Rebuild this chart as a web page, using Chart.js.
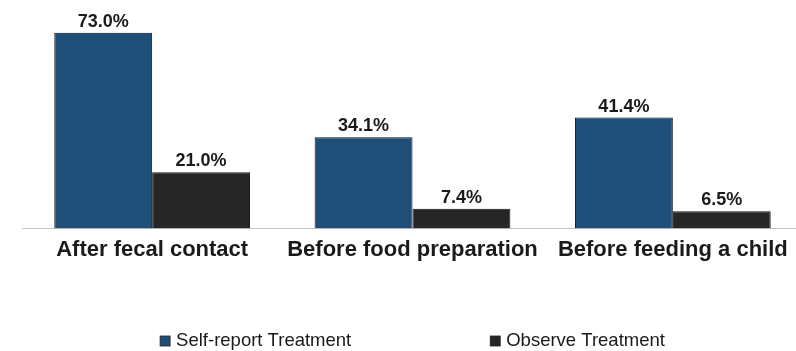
<!DOCTYPE html>
<html>
<head>
<meta charset="utf-8">
<script src="https://cdn.jsdelivr.net/npm/chart.js@4"></script>
<style>
  html, body { margin: 0; padding: 0; background: #fff; overflow: hidden; }
  #wrap { width: 803px; height: 351px; position: relative; }
</style>
</head>
<body>
<div id="wrap"><canvas id="handChart"></canvas></div>
<script>
var categories = ['After fecal contact', 'Before food preparation', 'Before feeding a child'];
var selfReport = [73.0, 34.1, 41.4];
var observed = [21.0, 7.4, 6.5];
var seriesNames = ['Self-report Treatment', 'Observe Treatment'];

// value labels above each bar
var barLabels = {
    id: 'barLabels',
    afterDatasetsDraw: function(chart) {
        var ctx = chart.ctx;
        ctx.save();
        ctx.font = 'bold 18px "Liberation Sans", Arial, sans-serif';
        ctx.fillStyle = '#1a1a1a';
        ctx.textAlign = 'center';
        ctx.textBaseline = 'alphabetic';
        chart.data.datasets.forEach(function(ds, i) {
            chart.getDatasetMeta(i).data.forEach(function(bar, j) {
                ctx.fillText(ds.data[j].toFixed(1) + '%', bar.x, bar.y - 6);
            });
        });
        ctx.restore();
    }
};

// legend at the bottom, centred on the plot
var bottomLegend = {
    id: 'bottomLegend',
    afterDraw: function(chart) {
        var ctx = chart.ctx;
        var area = chart.chartArea;
        ctx.save();
        ctx.font = '18.5px "Liberation Sans", Arial, sans-serif';
        ctx.textBaseline = 'middle';
        ctx.textAlign = 'left';
        var box = 10, gap = 6, spacing = 139;
        var widths = chart.data.datasets.map(function(ds) { return ctx.measureText(ds.label).width; });
        var total = box + gap + widths[0] + spacing + box + gap + widths[1];
        var x = (area.left + area.right) / 2 - total / 2;
        var y = 341;
        chart.data.datasets.forEach(function(ds, i) {
            ctx.fillStyle = ds.backgroundColor;
            ctx.fillRect(x, y - box / 2, box, box);
            ctx.strokeStyle = '#222';
            ctx.lineWidth = 0.8;
            ctx.strokeRect(x, y - box / 2, box, box);
            ctx.fillStyle = '#1a1a1a';
            ctx.fillText(ds.label, x + box + gap, y);
            x += box + gap + widths[i] + spacing;
        });
        ctx.restore();
    }
};

var handChart = new Chart(document.getElementById('handChart'), {
    type: 'bar',
    data: {
        labels: categories,
        datasets: [{
            label: seriesNames[0],
            data: selfReport,
            backgroundColor: '#1f4e79',
            borderColor: '#111111',
            borderWidth: 1
        }, {
            label: seriesNames[1],
            data: observed,
            backgroundColor: '#262626',
            borderColor: '#111111',
            borderWidth: 1
        }]
    },
    options: {
        responsive: true,
        maintainAspectRatio: false,
        animation: false,
        datasets: {
            bar: {
                categoryPercentage: 0.752,
                barPercentage: 1.0
            }
        },
        layout: {
            padding: { top: 14, left: 22, right: 0, bottom: 80 }
        },
        scales: {
            x: {
                grid: { display: false, drawTicks: false },
                border: { display: true, color: '#c4c4c4', width: 1 },
                ticks: {
                    color: '#1a1a1a',
                    padding: 8,
                    maxRotation: 0,
                    font: { family: '"Liberation Sans", Arial, sans-serif', size: 22, weight: 'bold' }
                }
            },
            y: {
                display: false,
                min: 0,
                max: 80
            }
        },
        plugins: {
            legend: { display: false },
            tooltip: { enabled: false }
        }
    },
    plugins: [barLabels, bottomLegend]
});
</script>
</body>
</html>
